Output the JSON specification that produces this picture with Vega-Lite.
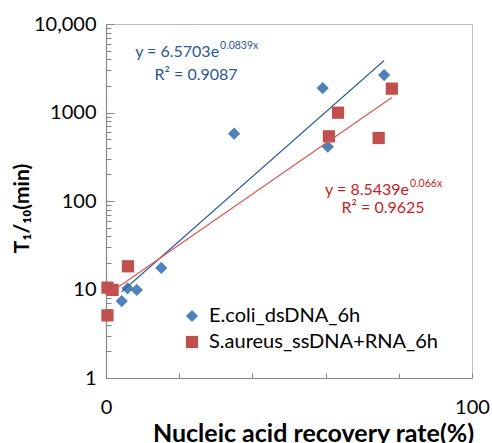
{
  "$schema": "https://vega.github.io/schema/vega-lite/v6.json",
  "width": 366,
  "height": 354,
  "autosize": {"type": "none"},
  "padding": {"left": 106, "top": 24, "right": 20, "bottom": 65},
  "background": "white",
  "config": {
    "font": "Lato",
    "view": {"stroke": "#bfbfbf", "strokeWidth": 1},
    "axis": {"domainColor": "#868686", "tickColor": "#868686", "domainWidth": 1.2, "grid": false, "labelColor": "#000000", "titleColor": "#000000"}
  },
  "datasets": {
    "points": [
      {"series": "E.coli_dsDNA_6h", "rate": 35.0, "t": 576},
      {"series": "E.coli_dsDNA_6h", "rate": 59.2, "t": 1890},
      {"series": "E.coli_dsDNA_6h", "rate": 76.0, "t": 2650},
      {"series": "E.coli_dsDNA_6h", "rate": 60.6, "t": 411},
      {"series": "E.coli_dsDNA_6h", "rate": 15.1, "t": 17.5},
      {"series": "E.coli_dsDNA_6h", "rate": 4.3, "t": 7.4},
      {"series": "E.coli_dsDNA_6h", "rate": 5.9, "t": 10.3},
      {"series": "E.coli_dsDNA_6h", "rate": 8.4, "t": 9.9},
      {"series": "S.aureus_ssDNA+RNA_6h", "rate": 78.1, "t": 1860},
      {"series": "S.aureus_ssDNA+RNA_6h", "rate": 63.4, "t": 995},
      {"series": "S.aureus_ssDNA+RNA_6h", "rate": 60.9, "t": 538},
      {"series": "S.aureus_ssDNA+RNA_6h", "rate": 74.5, "t": 515},
      {"series": "S.aureus_ssDNA+RNA_6h", "rate": 6.0, "t": 18.3},
      {"series": "S.aureus_ssDNA+RNA_6h", "rate": 0.4, "t": 10.5},
      {"series": "S.aureus_ssDNA+RNA_6h", "rate": 1.8, "t": 9.9},
      {"series": "S.aureus_ssDNA+RNA_6h", "rate": 0.4, "t": 5.1}
    ],
    "trends": [
      {"series": "E.coli_dsDNA_6h", "rate": 4.3, "t": 9.43},
      {"series": "E.coli_dsDNA_6h", "rate": 76.0, "t": 3866},
      {"series": "S.aureus_ssDNA+RNA_6h", "rate": 0.4, "t": 8.77},
      {"series": "S.aureus_ssDNA+RNA_6h", "rate": 78.1, "t": 1480}
    ],
    "equations": [
      {"series": "E.coli_dsDNA_6h", "rate": 30.9, "t": 4830, "main": "y = 6.5703e", "exp": "0.0839x", "r2": "R² = 0.9087", "r2rate": 24.6, "r2t": 2654},
      {"series": "S.aureus_ssDNA+RNA_6h", "rate": 82.8, "t": 133, "main": "y = 8.5439e", "exp": "0.066x", "r2": "R² = 0.9625", "r2rate": 75.7, "r2t": 83.4}
    ]
  },
  "layer": [
    {
      "data": {"name": "points"},
      "mark": {"type": "point", "filled": true, "opacity": 1, "size": 150},
      "encoding": {
        "x": {
          "field": "rate", "type": "quantitative",
          "scale": {"domain": [0, 100], "nice": false},
          "axis": {
            "title": "Nucleic acid recovery rate(%)",
            "titleFontSize": 25, "titleFontWeight": "bold",
            "titleX": 207, "titleY": 55, "titleBaseline": "middle", "titleAlign": "center",
            "values": [0, 10, 20, 30, 40, 50, 60, 70, 80, 90, 100],
            "labelExpr": "datum.value % 50 == 0 ? datum.label : ''",
            "labelFontSize": 20, "labelPadding": 24, "tickSize": -5, "labelFlush": false
          }
        },
        "y": {
          "field": "t", "type": "quantitative",
          "scale": {"type": "log", "domain": [1, 10000], "nice": false},
          "axis": {
            "title": "T₁/₁₀(min)",
            "titleFontSize": 21, "titleFontWeight": "bold",
            "titleAngle": -90, "titleX": -84, "titleY": 184, "titleAlign": "center", "titleBaseline": "middle",
            "values": [1, 2, 3, 4, 5, 6, 7, 8, 9, 10, 20, 30, 40, 50, 60, 70, 80, 90, 100, 200, 300, 400, 500, 600, 700, 800, 900, 1000, 2000, 3000, 4000, 5000, 6000, 7000, 8000, 9000, 10000],
            "format": "d",
            "labelExpr": "datum.value == 10000 ? '10,000' : (indexof([1, 10, 100, 1000], datum.value) >= 0 ? datum.label : '')",
            "labelFontSize": 20, "labelPadding": 18,
            "tickSize": {"condition": {"test": "indexof([1, 10, 100, 1000, 10000], datum.value) >= 0", "value": -8}, "value": -5},
            "labelFlush": false
          }
        },
        "color": {
          "field": "series", "type": "nominal",
          "scale": {"domain": ["E.coli_dsDNA_6h", "S.aureus_ssDNA+RNA_6h"], "range": ["#4F81BD", "#C0504D"]},
          "legend": {
            "title": null, "orient": "none", "legendX": 76, "legendY": 282,
            "labelFontSize": 20, "labelOffset": 7, "rowPadding": 6, "symbolSize": 150,
            "labelLimit": 400, "labelColor": "#000000"
          }
        },
        "shape": {
          "field": "series", "type": "nominal",
          "scale": {"domain": ["E.coli_dsDNA_6h", "S.aureus_ssDNA+RNA_6h"], "range": ["diamond", "square"]}
        }
      }
    },
    {
      "data": {"name": "trends"},
      "transform": [{"filter": "datum.series == 'E.coli_dsDNA_6h'"}],
      "mark": {"type": "line", "color": "#2E5A9A", "strokeWidth": 1.1},
      "encoding": {
        "x": {"field": "rate", "type": "quantitative"},
        "y": {"field": "t", "type": "quantitative"}
      }
    },
    {
      "data": {"name": "trends"},
      "transform": [{"filter": "datum.series == 'S.aureus_ssDNA+RNA_6h'"}],
      "mark": {"type": "line", "color": "#D9534F", "strokeWidth": 1.1},
      "encoding": {
        "x": {"field": "rate", "type": "quantitative"},
        "y": {"field": "t", "type": "quantitative"}
      }
    },
    {
      "data": {"name": "equations"},
      "transform": [{"filter": "datum.series == 'E.coli_dsDNA_6h'"}],
      "layer": [
        {
          "mark": {"type": "text", "align": "right", "baseline": "middle", "fontSize": 16, "color": "#2B579A"},
          "encoding": {
            "x": {"field": "rate", "type": "quantitative"},
            "y": {"field": "t", "type": "quantitative"},
            "text": {"field": "main"}
          }
        },
        {
          "mark": {"type": "text", "align": "left", "baseline": "middle", "fontSize": 10.5, "dy": -6, "dx": 1, "color": "#2B579A"},
          "encoding": {
            "x": {"field": "rate", "type": "quantitative"},
            "y": {"field": "t", "type": "quantitative"},
            "text": {"field": "exp"}
          }
        },
        {
          "mark": {"type": "text", "align": "center", "baseline": "middle", "fontSize": 16, "color": "#2B579A"},
          "encoding": {
            "x": {"field": "r2rate", "type": "quantitative"},
            "y": {"field": "r2t", "type": "quantitative"},
            "text": {"field": "r2"}
          }
        }
      ]
    },
    {
      "data": {"name": "equations"},
      "transform": [{"filter": "datum.series == 'S.aureus_ssDNA+RNA_6h'"}],
      "layer": [
        {
          "mark": {"type": "text", "align": "right", "baseline": "middle", "fontSize": 16, "color": "#C41E1E"},
          "encoding": {
            "x": {"field": "rate", "type": "quantitative"},
            "y": {"field": "t", "type": "quantitative"},
            "text": {"field": "main"}
          }
        },
        {
          "mark": {"type": "text", "align": "left", "baseline": "middle", "fontSize": 10.5, "dy": -6, "dx": 1, "color": "#C41E1E"},
          "encoding": {
            "x": {"field": "rate", "type": "quantitative"},
            "y": {"field": "t", "type": "quantitative"},
            "text": {"field": "exp"}
          }
        },
        {
          "mark": {"type": "text", "align": "center", "baseline": "middle", "fontSize": 16, "color": "#C41E1E"},
          "encoding": {
            "x": {"field": "r2rate", "type": "quantitative"},
            "y": {"field": "r2t", "type": "quantitative"},
            "text": {"field": "r2"}
          }
        }
      ]
    }
  ]
}
